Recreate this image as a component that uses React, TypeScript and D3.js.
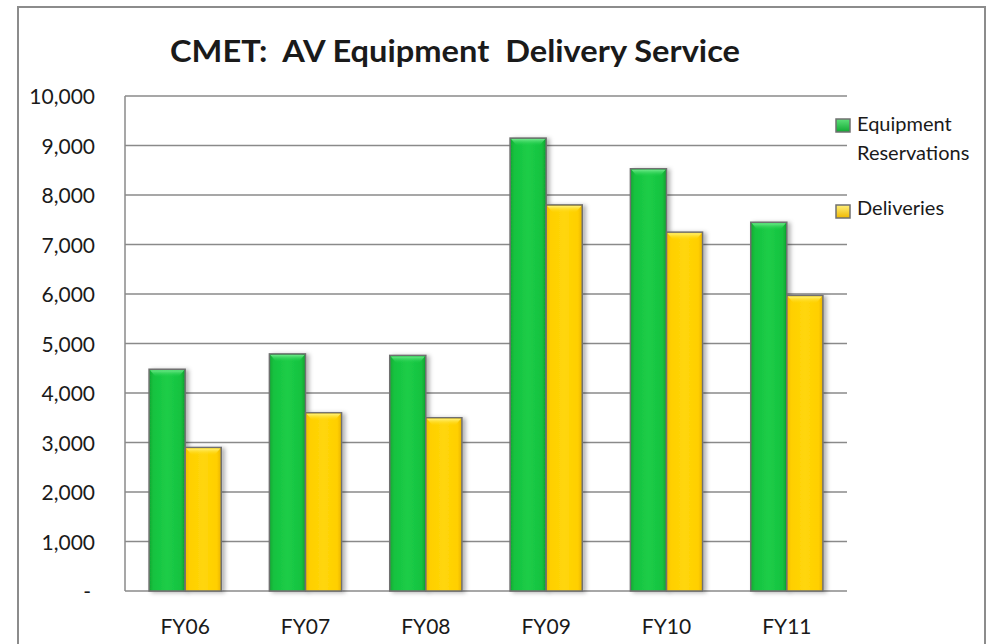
import React from "react";
import * as d3 from "d3";

const categories = ["FY06", "FY07", "FY08", "FY09", "FY10", "FY11"];
const seriesNames = ["Equipment Reservations", "Deliveries"];
const reservations = [4480, 4790, 4760, 9150, 8530, 7450];
const deliveries = [2900, 3600, 3500, 7800, 7250, 5970];
const yTicks = [0, 1000, 2000, 3000, 4000, 5000, 6000, 7000, 8000, 9000, 10000];

const W = 989, H = 644;
const plot = { left: 125, right: 847, top: 96, bottom: 591 };
const FONT = "Lato, 'Open Sans', sans-serif";

export default function App() {
  const x0 = d3.scaleBand<string>().domain(categories).range([plot.left, plot.right]).paddingInner(0.4).paddingOuter(0.2);
  const x1 = d3.scaleBand<string>().domain(seriesNames).range([0, x0.bandwidth()]).padding(0);
  const y = d3.scaleLinear().domain([0, 10000]).range([plot.bottom, plot.top]);
  const fmt = d3.format(",");
  const seriesData = [reservations, deliveries];
  const gradIds = ["gGreen", "gYellow"];
  const legendSwatch = ["lgGreen", "lgYellow"];

  return (
    <svg width={W} height={H} style={{ position: "absolute", left: 0, top: 0, background: "#fff" }} fontFamily={FONT}>
      <defs>
        <linearGradient id="gGreen" x1="0" x2="1" y1="0" y2="0">
          <stop offset="0" stopColor="#0fa830" />
          <stop offset="0.12" stopColor="#16c240" />
          <stop offset="0.5" stopColor="#1ccd47" />
          <stop offset="0.88" stopColor="#16c240" />
          <stop offset="1" stopColor="#0e9e2d" />
        </linearGradient>
        <linearGradient id="gYellow" x1="0" x2="1" y1="0" y2="0">
          <stop offset="0" stopColor="#f2bd00" />
          <stop offset="0.12" stopColor="#ffcf00" />
          <stop offset="0.5" stopColor="#ffd60a" />
          <stop offset="0.88" stopColor="#ffcf00" />
          <stop offset="1" stopColor="#eab400" />
        </linearGradient>
        <linearGradient id="topGreen" x1="0" x2="0" y1="0" y2="1">
          <stop offset="0" stopColor="#6fe88a" />
          <stop offset="1" stopColor="#1ccd47" stopOpacity="0" />
        </linearGradient>
        <linearGradient id="topYellow" x1="0" x2="0" y1="0" y2="1">
          <stop offset="0" stopColor="#fff27a" />
          <stop offset="1" stopColor="#ffd60a" stopOpacity="0" />
        </linearGradient>
        <linearGradient id="lgGreen" x1="0" x2="0" y1="0" y2="1">
          <stop offset="0" stopColor="#5ee07a" />
          <stop offset="1" stopColor="#10a832" />
        </linearGradient>
        <linearGradient id="lgYellow" x1="0" x2="0" y1="0" y2="1">
          <stop offset="0" stopColor="#fff07a" />
          <stop offset="1" stopColor="#f0b800" />
        </linearGradient>
        <filter id="shadow" x="-20%" y="-5%" width="150%" height="115%">
          <feDropShadow dx="3" dy="1" stdDeviation="2" floodColor="#000" floodOpacity="0.3" />
        </filter>
      </defs>

      <rect x={18} y={7} width={967} height={660} fill="#fff" stroke="#8c8c8c" strokeWidth={2} />

      <text x={170} y={62} fontSize={30} fontWeight="bold" fill="#1a1a1a" textLength={570} lengthAdjust="spacingAndGlyphs" style={{ whiteSpace: "pre" }}>
        {"CMET:  AV Equipment  Delivery Service"}
      </text>

      {yTicks.map((t) => (
        <g key={t}>
          <line x1={plot.left} x2={plot.right} y1={y(t)} y2={y(t)} stroke="#8a8a8a" strokeWidth={1.5} />
          <text x={t === 0 ? 91 : 95} y={y(t) + 8} textAnchor="end" fontSize={21} fill="#1a1a1a">
            {t === 0 ? "-" : fmt(t)}
          </text>
        </g>
      ))}
      <line x1={plot.left} x2={plot.left} y1={plot.top} y2={plot.bottom} stroke="#8a8a8a" strokeWidth={1.5} />

      {categories.map((c, ci) => (
        <g key={c}>
          {seriesNames.map((s, si) => {
            const v = seriesData[si][ci];
            const bx = (x0(c) as number) + (x1(s) as number);
            const bw = x1.bandwidth();
            const by = y(v);
            const bh = plot.bottom - by;
            return (
              <g key={s}>
                <rect x={bx} y={by} width={bw} height={bh} fill={`url(#${gradIds[si]})`} stroke="#707070" strokeWidth={1.5} filter="url(#shadow)" />
                <path
                  d={`M${bx + 1},${by + 1}L${bx + bw - 1},${by + 1}L${bx + bw - 7},${by + 8}L${bx + 7},${by + 8}Z`}
                  fill={si === 0 ? "url(#topGreen)" : "url(#topYellow)"}
                />
              </g>
            );
          })}
          <text x={(x0(c) as number) + x0.bandwidth() / 2} y={634} textAnchor="middle" fontSize={21} fill="#1a1a1a">
            {c}
          </text>
        </g>
      ))}

      <g>
        <rect x={836} y={119} width={14} height={13} fill={`url(#${legendSwatch[0]})`} stroke="#707070" strokeWidth={1.5} />
        <text x={857} y={131} fontSize={20} fill="#1a1a1a">Equipment</text>
        <text x={857} y={160} fontSize={20} fill="#1a1a1a">Reservations</text>
        <rect x={836} y={205} width={14} height={13} fill={`url(#${legendSwatch[1]})`} stroke="#707070" strokeWidth={1.5} />
        <text x={857} y={215} fontSize={20} fill="#1a1a1a">Deliveries</text>
      </g>
    </svg>
  );
}
